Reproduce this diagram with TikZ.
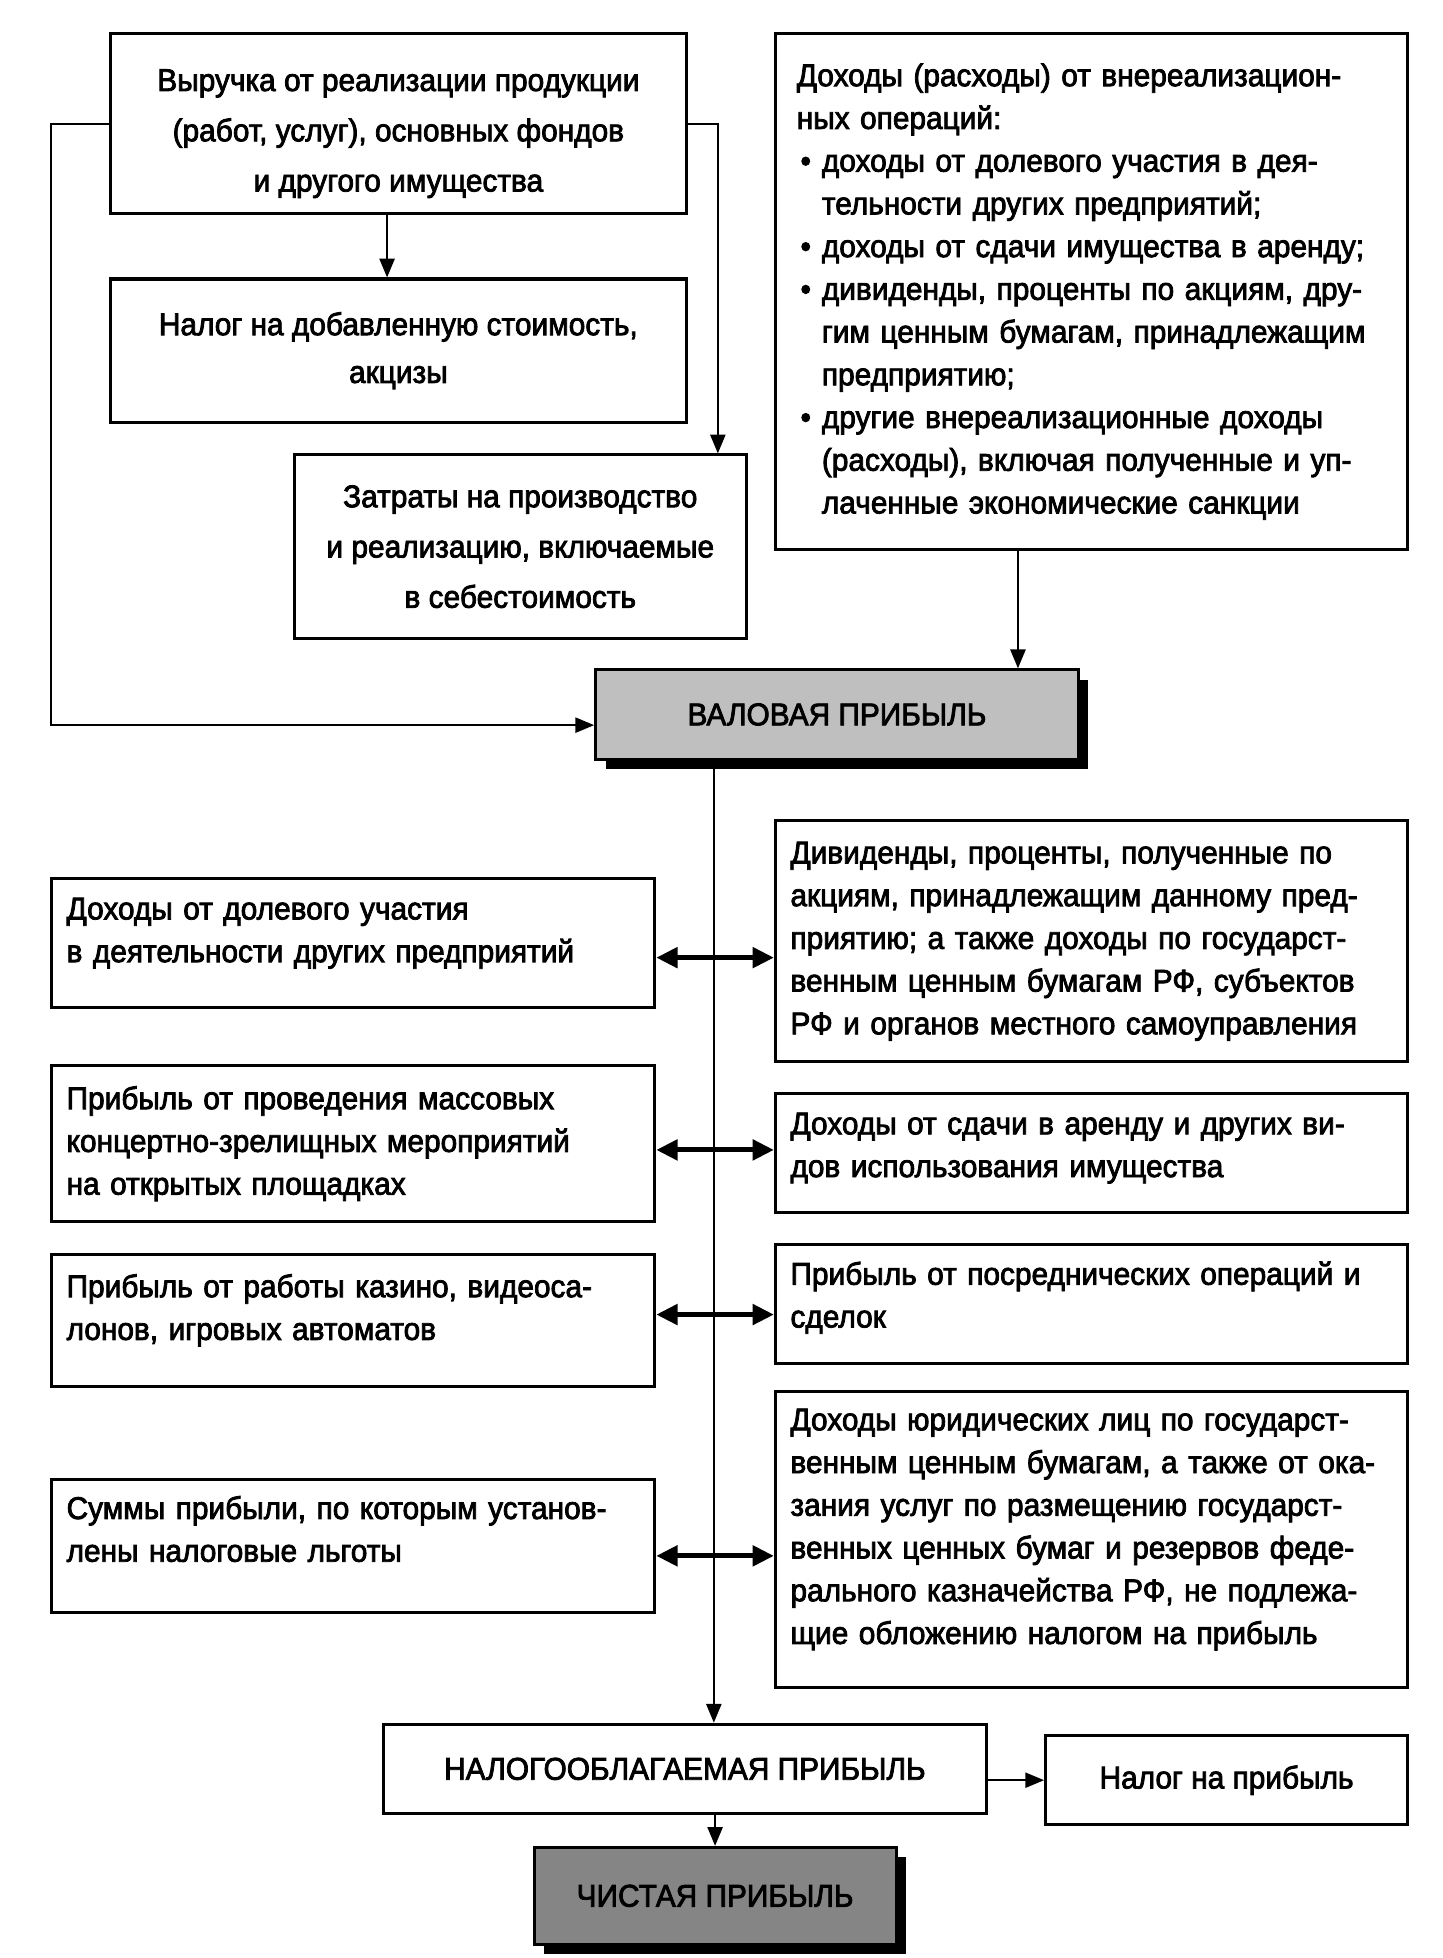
\documentclass[tikz,border=0pt]{standalone}
\usepackage{fontspec}
\setmainfont{Liberation Sans}[FakeBold=2.5, FakeStretch=0.95]
\usetikzlibrary{arrows.meta,shadows}
\hyphenpenalty=10000
\exhyphenpenalty=10000
\newcommand{\jline}[1]{\makebox[\hsize][s]{#1}}
\newcommand{\bul}{\makebox[20pt][l]{\hspace{3pt}•}}
\newcommand{\ind}{\hspace*{20pt}}

\begin{document}
\begin{tikzpicture}[x=1pt, y=-1pt,
		box/.style={draw, line width=2.4pt, inner sep=0pt, font=\fontsize{25}{34}\selectfont},
		ctr/.style={box, align=center, font=\fontsize{25}{40}\selectfont},
		lbox/.style={box, minimum width=480pt, text width=456pt, align=left},
		rbox/.style={box, minimum width=503pt, text width=479pt, align=left},
		hilite/.style={box, drop shadow={shadow xshift=8pt, shadow yshift=-8pt, fill=black, opacity=1}},
		arr/.style={-{Triangle[length=15pt,width=12pt]}, line width=1.8pt},
		dbl/.style={{Triangle[length=17pt,width=16pt]}-{Triangle[length=17pt,width=16pt]}, line width=4pt}]
	\useasboundingbox (0,0) rectangle (1148,1558);

	\node[ctr, minimum width=458pt, minimum height=143pt, text height=113pt] (rev) at (317,98.5)
		{Выручка от реализации продукции\\(работ, услуг), основных фондов\\и другого имущества};
	\node[ctr, minimum width=458pt, minimum height=114pt, font=\fontsize{25}{38}\selectfont] (vat) at (317,279)
		{Налог на добавленную стоимость,\\акцизы};
	\node[ctr, minimum width=360pt, minimum height=146pt] (cost) at (414,435)
		{Затраты на производство\\и реализацию, включаемые\\в себестоимость};
	\node[box, minimum width=503pt, minimum height=410pt, text width=469pt, align=left] (nonop) at (868.5,232)
		{Доходы (расходы) от внереализацион-\\ных операций:\\
		\bul доходы от долевого участия в дея-\\\ind тельности других предприятий;\\
		\bul доходы от сдачи имущества в аренду;\\
		\bul дивиденды, проценты по акциям, дру-\\\ind гим ценным бумагам, принадлежащим\\\ind предприятию;\\
		\bul другие внереализационные доходы\\\ind (расходы), включая полученные и уп-\\\ind лаченные экономические санкции};
	\node[hilite, fill=black!25, minimum width=384pt, minimum height=71pt] (gross) at (666,568.5) {ВАЛОВАЯ ПРИБЫЛЬ};

	\node[lbox, minimum height=103pt, text depth=55pt] (l1) at (281,750.5)
		{Доходы от долевого участия\\в деятельности других предприятий};
	\node[lbox, minimum height=124pt] (l2) at (281,910)
		{Прибыль от проведения массовых\\концертно-зрелищных мероприятий\\на открытых площадках};
	\node[lbox, minimum height=105pt, text depth=55pt] (l3) at (281,1050.5)
		{Прибыль от работы казино, видеоса-\\лонов, игровых автоматов};
	\node[lbox, minimum height=106pt, text depth=61pt] (l4) at (281,1230)
		{Суммы прибыли, по которым установ-\\лены налоговые льготы};

	\node[rbox, minimum height=192pt] (r1) at (868.5,749)
		{Дивиденды, проценты, полученные по\\акциям, принадлежащим данному пред-\\приятию; а также доходы по государст-\\венным ценным бумагам РФ, субъектов\\РФ и органов местного самоуправления};
	\node[rbox, minimum height=95pt, text depth=47pt] (r2) at (868.5,917.5)
		{Доходы от сдачи в аренду и других ви-\\дов использования имущества};
	\node[rbox, minimum height=95pt, text depth=49pt] (r3) at (868.5,1037.5)
		{Прибыль от посреднических операций и\\сделок};
	\node[rbox, minimum height=236pt, text depth=191pt] (r4) at (868.5,1225)
		{\jline{Доходы юридических лиц по государст-}\\\jline{венным ценным бумагам, а также от ока-}\\\jline{зания услуг по размещению государст-}\\\jline{венных ценных бумаг и резервов феде-}\\\jline{рального казначейства РФ, не подлежа-}\\щие обложению налогом на прибыль};

	\node[ctr, minimum width=480pt, minimum height=71pt] (taxable) at (545,1407.5) {НАЛОГООБЛАГАЕМАЯ ПРИБЫЛЬ};
	\node[ctr, minimum width=288pt, minimum height=71pt] (ptax) at (976,1416.5) {Налог на прибыль};
	\node[hilite, fill=black!48, minimum width=288pt, minimum height=77pt] (net) at (569,1508.5) {ЧИСТАЯ ПРИБЫЛЬ};

	\coordinate (spine) at (568,0);
	\draw[arr] ([xshift=-9pt]rev.south) -- ([xshift=-9pt]vat.north);
	\draw[arr] (rev.east) -| ([xshift=-24pt]cost.north east);
	\draw[arr] (rev.west) -- ++(-46,0) |- ([yshift=-8.5pt]gross.west);
	\draw[arr] ([xshift=-58.5pt]nonop.south) -- ([xshift=-58.5pt]nonop.south |- gross.north);
	\draw[arr] (gross.south -| spine) -- (taxable.north -| spine);
	\foreach \i/\d in {1/-11.5,2/-5,3/4.5,4/-8}
		\draw[dbl] ([yshift=\d pt]l\i.east) -- ([yshift=\d pt]l\i.east -| r\i.west);
	\draw[arr] (ptax.west -| taxable.east) -- (ptax.west);
	\draw[arr] (taxable.south -| net.north) -- (net.north);
\end{tikzpicture}
\end{document}
